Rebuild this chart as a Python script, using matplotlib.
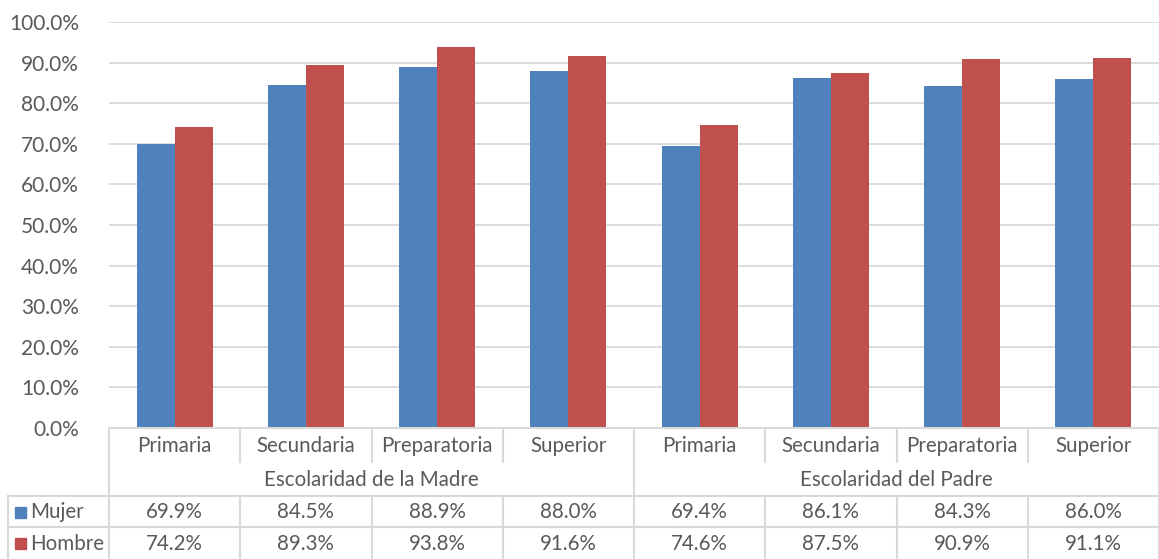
import numpy as np
import matplotlib
matplotlib.use('Agg')
from matplotlib import pyplot as plt
from matplotlib.ticker import PercentFormatter

niveles = ["Primaria", "Secundaria", "Preparatoria", "Superior"]
grupos = ["Escolaridad de la Madre", "Escolaridad del Padre"]
mujer = [69.9, 84.5, 88.9, 88.0, 69.4, 86.1, 84.3, 86.0]
hombre = [74.2, 89.3, 93.8, 91.6, 74.6, 87.5, 90.9, 91.1]
series = ["Mujer", "Hombre"]
colores = ["#4F81BD", "#C0504D"]

W, H = 1159, 559
gris = "#595959"
linea = "#D9D9D9"
plt.rcParams['font.family'] = ['Lato', 'DejaVu Sans']

fig = plt.figure(figsize=(W / 100, H / 100), dpi=100)

# area de las barras
x0, x1, ytop, ybot = 109, 1159, 22, 428
ax = fig.add_axes([x0 / W, (H - ybot) / H, (x1 - x0) / W, (ybot - ytop) / H])
n = len(mujer)
x = np.arange(n)
bw = 0.29
ax.bar(x - bw / 2, mujer, bw, color=colores[0], zorder=3)
ax.bar(x + bw / 2, hombre, bw, color=colores[1], zorder=3)
ax.set_xlim(-0.5, n - 0.5)
ax.set_ylim(0, 100)
ax.set_yticks(np.arange(0, 101, 10))
ax.yaxis.set_major_formatter(PercentFormatter(decimals=1))
ax.tick_params(axis='y', length=0, pad=21.5, labelsize=15, labelcolor=gris)
ax.set_xticks([])
ax.grid(axis='y', color=linea, linewidth=1.3, zorder=0)
for s in ax.spines.values():
    s.set_visible(False)

# tabla de datos debajo
tab = fig.add_axes([0, 0, 1, 1])
tab.set_xlim(0, W)
tab.set_ylim(H, 0)
tab.axis('off')
cw = (x1 - x0) / n
r_cat, r_grp, r_m, r_h, r_end = 428, 462, 496, 527, 559
lw = 1.5
tab.plot([x0, x1], [r_cat, r_cat], color=linea, lw=lw)
tab.plot([8, x1], [r_m, r_m], color=linea, lw=lw)
tab.plot([8, x1], [r_h, r_h], color=linea, lw=lw)
tab.plot([8, 8], [r_m, r_end], color=linea, lw=lw)
for i in range(n + 1):
    xx = x0 + i * cw
    if i % 4 == 0:
        tab.plot([xx, xx], [r_cat, r_end], color=linea, lw=lw)
    else:
        tab.plot([xx, xx], [r_cat, r_grp], color=linea, lw=lw)
        tab.plot([xx, xx], [r_m, r_end], color=linea, lw=lw)

fs = 14.8
for i in range(n):
    cx = x0 + (i + 0.5) * cw
    tab.text(cx, (r_cat + r_grp) / 2 + 1, niveles[i % 4], ha='center', va='center', fontsize=fs, color=gris)
    tab.text(cx, (r_m + r_h) / 2 + 1, f"{mujer[i]:.1f}%", ha='center', va='center', fontsize=fs, color=gris)
    tab.text(cx, (r_h + r_end) / 2 + 1, f"{hombre[i]:.1f}%", ha='center', va='center', fontsize=fs, color=gris)
for g, nombre in enumerate(grupos):
    cx = x0 + (g * 4 + 2) * cw
    tab.text(cx, (r_grp + r_m) / 2 + 1, nombre, ha='center', va='center', fontsize=fs, color=gris)

for k, (nombre, c) in enumerate(zip(series, colores)):
    yc = (r_m + r_h) / 2 + k * (r_h - r_m)
    tab.add_patch(plt.Rectangle((15, yc - 5), 11, 11, color=c))
    tab.text(30, yc + 1, nombre, ha='left', va='center', fontsize=fs, color=gris)

fig.savefig("out.png", dpi=100)
